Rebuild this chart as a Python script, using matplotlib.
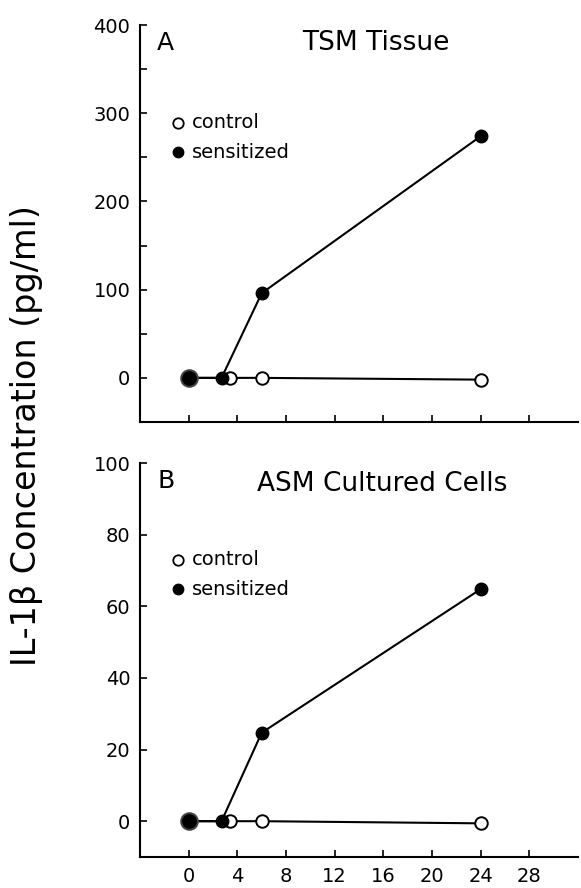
import numpy as np
from matplotlib import pyplot as plt
from matplotlib.ticker import MultipleLocator

# panel A: TSM tissue (pg/ml)
a_ctrl_t = [0, 3.4, 6, 24]
a_ctrl_v = [0, 0, 0, -2]
a_sens_t = [0, 2.7, 6, 24]
a_sens_v = [0, 0, 96, 274]

# panel B: ASM cultured cells (pg/ml)
b_ctrl_t = [0, 3.4, 6, 24]
b_ctrl_v = [0, 0, 0, -0.6]
b_sens_t = [0, 2.7, 6, 24]
b_sens_v = [0, 0, 24.7, 64.8]

x_ticks = [0, 4, 8, 12, 16, 20, 24, 28]

plt.rcParams['font.family'] = ['DejaVu Sans']

fig = plt.figure(figsize=(5.81, 8.88), dpi=100)
ax1 = fig.add_axes([0.241, 0.5248, 0.754, 0.447])
ax2 = fig.add_axes([0.241, 0.0349, 0.754, 0.4437])


def panel(ax, ct, cv, st, sv, ylim, yticks, letter, title, tx, ty, minor=None):
    ax.plot(ct, cv, '-o', color='black', lw=1.5, ms=9,
            mfc='white', mec='black', mew=1.4, zorder=3)
    ax.plot(st, sv, '-o', color='black', lw=1.5, ms=9,
            mfc='black', mec='black', zorder=4)
    # first time point drawn a bit heavier (overlapping symbols)
    ax.plot(st[:1], sv[:1], 'o', ms=12, mfc='black', mec='#444444', mew=1.4, zorder=5)
    ax.set_xlim(-4, 32)
    ax.set_ylim(*ylim)
    ax.set_xticks(x_ticks)
    ax.set_yticks(yticks)
    if minor:
        ax.yaxis.set_minor_locator(MultipleLocator(minor))
    for s in ['top', 'right']:
        ax.spines[s].set_visible(False)
    for s in ['left', 'bottom']:
        ax.spines[s].set_linewidth(1.5)
    ax.tick_params(direction='in', length=5, width=1.2, labelsize=14, pad=7)
    ax.tick_params(which='minor', direction='in', length=5, width=1.2)
    ax.text(0.039, 0.955, letter, transform=ax.transAxes, fontsize=18,
            va='center', ha='left')
    ax.text(tx, ty, title, transform=ax.transAxes, fontsize=19,
            va='center', ha='center')
    # legend drawn as text + markers
    ax.plot([0.087], [0.754], 'o', transform=ax.transAxes, ms=7.5, mfc='white',
            mec='black', mew=1.3, clip_on=False)
    ax.text(0.118, 0.754, 'control', transform=ax.transAxes, fontsize=14, va='center')
    ax.plot([0.087], [0.679], 'o', transform=ax.transAxes, ms=7.5, mfc='black',
            mec='black', clip_on=False)
    ax.text(0.118, 0.679, 'sensitized', transform=ax.transAxes, fontsize=14, va='center')


panel(ax1, a_ctrl_t, a_ctrl_v, a_sens_t, a_sens_v, (-50, 400),
      [0, 100, 200, 300, 400], 'A', 'TSM Tissue', 0.539, 0.955, minor=50)
ax1.set_xticklabels([])
panel(ax2, b_ctrl_t, b_ctrl_v, b_sens_t, b_sens_v, (-10, 100),
      [0, 20, 40, 60, 80, 100], 'B', 'ASM Cultured Cells', 0.553, 0.946)

fig.text(0.046, 0.51, 'IL-1β Concentration (pg/ml)', rotation=90,
         fontsize=24, va='center', ha='center')

fig.savefig('out.png', dpi=100)
